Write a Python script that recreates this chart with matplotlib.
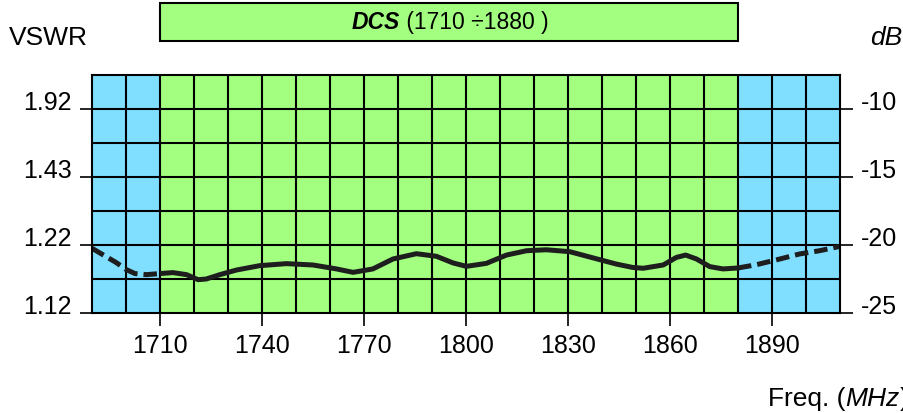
import matplotlib
matplotlib.use('Agg')
import matplotlib.pyplot as plt
from matplotlib.ticker import FixedLocator
from matplotlib.patches import Rectangle
import matplotlib.transforms as mtransforms

plt.rcParams['font.family'] = ['Liberation Sans', 'DejaVu Sans']

# ---------------- data ----------------
band_lo, band_hi = 1710, 1880
x_min, x_max = 1690, 1910
y_min, y_max = -25.0, -7.5

x_ticks = [1710, 1740, 1770, 1800, 1830, 1860, 1890]
x_grid = [1700, 1710, 1720, 1730, 1740, 1750, 1760, 1770, 1780, 1790, 1800,
          1810, 1820, 1830, 1840, 1850, 1860, 1870, 1880, 1890, 1900]
db_ticks = [-25, -20, -15, -10]
db_tick_labels = ['-25', '-20', '-15', '-10']
vswr_tick_labels = ['1.12', '1.22', '1.43', '1.92']
y_grid = [-22.5, -20, -17.5, -15, -12.5, -10]

# return loss (dB) outside band (dashed), left side
freq_left = [1690, 1693.7, 1697, 1700.1, 1702.6, 1706, 1710]
rl_left = [-20.24, -20.79, -21.27, -21.81, -22.10, -22.18, -22.10]

# in band (solid)
freq_band = [1710, 1713.8, 1717.8, 1721.2, 1723.6, 1727.6, 1732.5, 1739.3,
             1747.2, 1755, 1761.9, 1766.8, 1772.6, 1778.5, 1785.4, 1791.3,
             1796.2, 1800.1, 1806, 1811.9, 1817.8, 1823.6, 1830.5, 1837.4,
             1844.2, 1849, 1852.1, 1858, 1861.9, 1864.6, 1867.8, 1871.7,
             1875.6, 1880]
rl_band = [-22.10, -22.03, -22.18, -22.55, -22.50, -22.18, -21.84, -21.52,
           -21.37, -21.47, -21.76, -22.01, -21.76, -21.03, -20.64, -20.83,
           -21.32, -21.57, -21.35, -20.74, -20.42, -20.35, -20.49, -20.95,
           -21.40, -21.65, -21.71, -21.47, -20.91, -20.74, -21.03, -21.59,
           -21.76, -21.69]

# right side (dashed)
freq_right = [1880, 1885.4, 1892.3, 1898.1, 1904, 1910]
rl_right = [-21.69, -21.45, -21.03, -20.66, -20.42, -20.10]

# ---------------- style ----------------
BLUE = '#80dfff'
GREEN = '#a2ff80'
LINE = '#1e1e1e'
FS = 18
FS_T = 19

fig = plt.figure(figsize=(9.04, 4.14), dpi=100)
W, H = 904, 414
ax = fig.add_axes([92 / W, 1 - 314 / H, (840 - 92) / W, (314 - 76) / H])
ax.set_xlim(x_min, x_max)
ax.set_ylim(y_min, y_max)

ax.axvspan(x_min, band_lo, color=BLUE, zorder=0, lw=0)
ax.axvspan(band_lo, band_hi, color=GREEN, zorder=0, lw=0)
ax.axvspan(band_hi, x_max, color=BLUE, zorder=0, lw=0)

for gx in x_grid:
    ax.axvline(gx, color='black', lw=1.5, zorder=1)
for gy in y_grid:
    ax.axhline(gy, color='black', lw=1.5, zorder=1)

dash = (0, (2.7, 1.2))
ax.plot(freq_left, rl_left, color=LINE, lw=3.6, ls=dash,
        dash_capstyle='butt', dash_joinstyle='round', zorder=3)
ax.plot(freq_band, rl_band, color=LINE, lw=3.6, solid_capstyle='butt',
        solid_joinstyle='round', zorder=3)
ax.plot(freq_right, rl_right, color=LINE, lw=3.6, ls=dash,
        dash_capstyle='butt', dash_joinstyle='round', zorder=3)

for s in ax.spines.values():
    s.set_linewidth(1.5)
    s.set_zorder(4)

ax.xaxis.set_major_locator(FixedLocator(x_ticks))
ax.set_xticklabels([str(v) for v in x_ticks])
ax.yaxis.set_major_locator(FixedLocator(db_ticks))
ax.set_yticklabels(vswr_tick_labels)
ax.tick_params(axis='x', direction='out', length=9, width=1.2, pad=5.5,
               labelsize=FS, top=False)
ax.tick_params(axis='y', direction='out', length=9, width=1.2, pad=5.5,
               labelsize=FS, right=False)
for lab in ax.get_yticklabels():
    lab.set_verticalalignment('baseline')

ax2 = ax.twinx()
ax2.set_ylim(y_min, y_max)
ax2.yaxis.set_major_locator(FixedLocator(db_ticks))
ax2.set_yticklabels(db_tick_labels)
ax2.tick_params(axis='y', direction='out', length=9, width=1.2, pad=6,
                labelsize=FS)
for lab in ax2.get_yticklabels():
    lab.set_verticalalignment('baseline')
for s in ax2.spines.values():
    s.set_visible(False)

# DCS band box
trans = mtransforms.blended_transform_factory(ax.transData, ax.transAxes)
y0 = (314 - 42) / 238
y1 = (314 - 4) / 238
ax.add_patch(Rectangle((band_lo, y0), band_hi - band_lo, y1 - y0,
                       transform=trans, clip_on=False, facecolor=GREEN,
                       edgecolor='black', lw=1.5, zorder=5))

t1 = fig.text(352 / W, 1 - 29 / H, 'DCS', fontsize=16.5, fontweight='bold',
              fontstyle='italic', va='baseline', ha='left', zorder=6)
ax.annotate(' (1710 \u00f71880 )', xy=(1, 0), xycoords=t1, va='bottom',
            ha='left', fontsize=16.5, annotation_clip=False, zorder=6)

fig.text(9 / W, 1 - 45 / H, 'VSWR', fontsize=FS_T, va='baseline', ha='left')
fig.text(902 / W, 1 - 45 / H, 'dB', fontsize=FS_T, fontstyle='italic',
         va='baseline', ha='right')

f1 = fig.text(768 / W, 1 - 406 / H, 'Freq. (', fontsize=FS_T, va='baseline',
              ha='left')
f2 = ax.annotate('MHz', xy=(1, 0), xycoords=f1, va='bottom', ha='left',
                 fontsize=FS_T, fontstyle='italic', annotation_clip=False)
ax.annotate(')', xy=(1, 0), xycoords=f2, va='bottom', ha='left',
            fontsize=FS_T, annotation_clip=False)

fig.savefig('out.png', dpi=100)
